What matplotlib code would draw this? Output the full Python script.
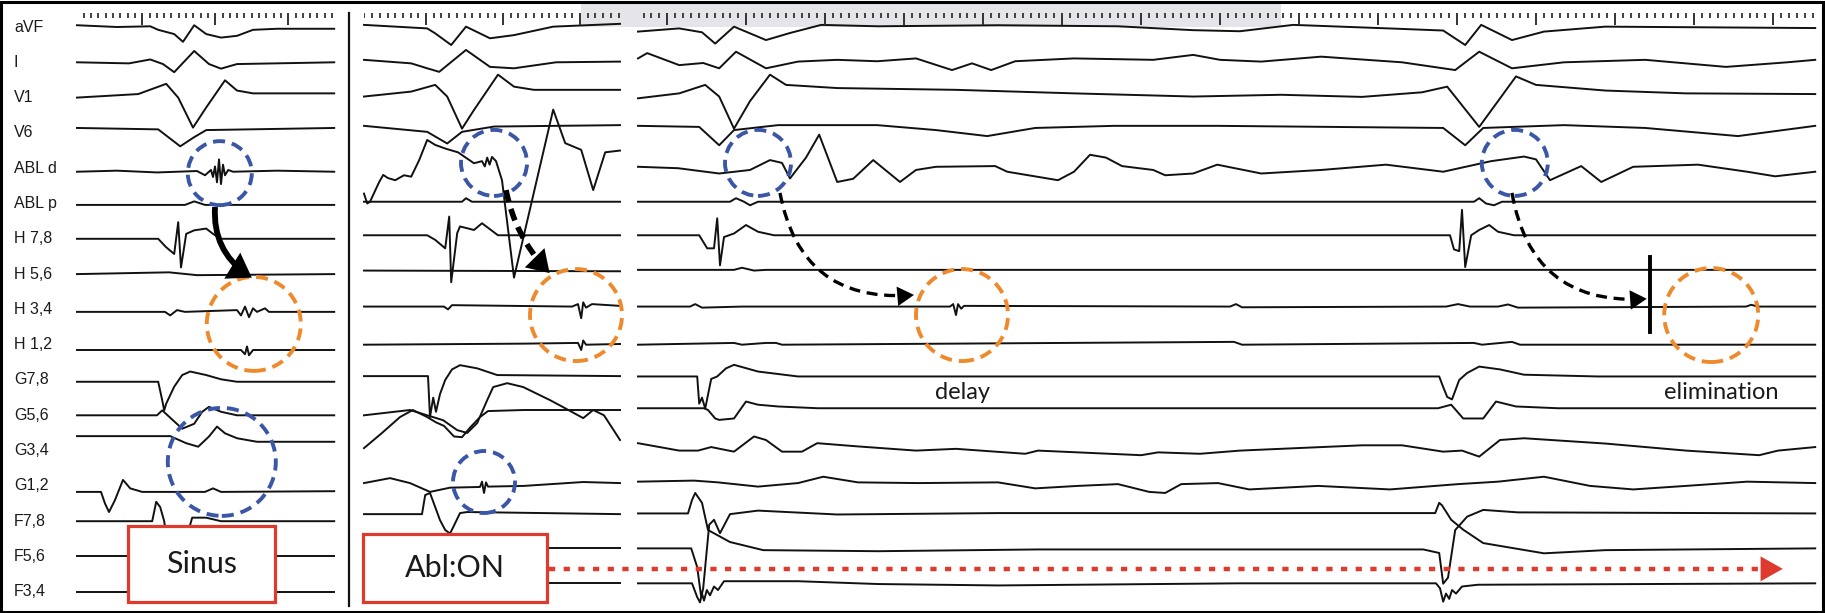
import numpy as np
import matplotlib.pyplot as plt
from matplotlib.patches import Ellipse, Rectangle, FancyArrowPatch

W, H = 1825, 613
MS_PER_PX = 2.5      # time scale of the recording
PX_PER_CH = 35.3     # vertical gap between channels
TOP_PX = 27          # baseline of the first channel

channels = ['aVF', 'I', 'V1', 'V6', 'ABL d', 'ABL p', 'H 7,8', 'H 5,6', 'H 3,4', 'H 1,2',
            'G7,8', 'G5,6', 'G3,4', 'G1,2', 'F7,8', 'F5,6', 'F3,4']

# (time ms, amplitude in channel units)
sinus = {
    'aVF': [(0, 0.05), (100, 0), (183, 0.02), (203, -0.08), (243, -0.2), (265, -0.42), (293, 0.05), (323, -0.2),
            (360, -0.3), (400, -0.25), (440, -0.08), (500, -0.05), (643, -0.05)],
    'I': [(0, 0), (130, -0.03), (183, 0.08), (215, -0.05), (243, -0.28), (293, 0.32), (330, -0.05), (360, -0.18),
          (400, -0.05), (643, 0)],
    'V1': [(0, 0), (153, 0.1), (223, 0.39), (253, 0), (290, -0.85), (323, -0.28), (370, 0.49), (400, 0.2),
           (440, 0.12), (643, 0.12)],
    'V6': [(0, 0.14), (203, 0.1), (258, -0.38), (293, -0.12), (323, 0.08), (643, 0.14)],
    'ABL d': [(0, -0.1), (100, -0.07), (200, -0.12), (300, -0.08), (320, -0.2), (335, -0.05), (340, -0.25),
              (345, 0.05), (350, -0.4), (355, 0.25), (360, -0.45), (365, 0.1), (370, -0.2), (378, -0.05),
              (390, -0.1), (500, -0.07), (643, -0.1)],
    'ABL p': [(0, -0.04), (270, -0.04), (293, 0.06), (320, -0.04), (643, -0.04)],
    'H 7,8': [(0, 0), (203, 0), (223, -0.24), (243, -0.43), (253, 0.47), (260, -0.81), (273, 0.14), (293, 0.24),
              (323, 0.29), (340, 0.14), (360, 0), (643, 0)],
    'H 5,6': [(0, 0), (230, 0.05), (300, -0.03), (643, 0)],
    'H 3,4': [(0, -0.07), (220, -0.07), (233, -0.17), (250, -0.02), (270, -0.07), (400, -0.02), (410, -0.17),
              (420, 0.08), (430, -0.22), (440, 0.03), (450, -0.07), (470, 0.03), (480, -0.07), (643, -0.07)],
    'H 1,2': [(0, -0.15), (410, -0.15), (420, -0.27), (425, -0.05), (430, -0.3), (440, -0.15), (643, -0.15)],
    'G7,8': [(0, -0.05), (203, -0.05), (213, -0.57), (218, -0.86), (223, -0.67), (243, -0.19), (263, 0.14),
             (283, 0.24), (323, 0.14), (360, 0.02), (400, -0.05), (643, -0.05)],
    'G5,6': [(0, 0), (200, 0), (213, 0.14), (263, -0.38), (293, -0.24), (313, 0.1), (330, 0.24), (360, 0.1),
             (400, 0), (643, 0)],
    'G3,4': [(0, 0.41), (233, 0.41), (273, 0.21), (303, 0.11), (330, 0.4), (350, 0.68), (370, 0.49), (400, 0.35),
             (450, 0.25), (643, 0.25)],
    'G1,2': [(0, -0.17), (60, -0.17), (70, -0.5), (80, -0.74), (95, -0.4), (115, 0.17), (133, -0.07),
             (163, -0.17), (320, -0.17), (340, -0.07), (360, -0.17), (643, -0.15)],
    'F7,8': [(0, 0), (188, 0), (198, 0.55), (208, 0.4), (218, 0), (230, -1.0), (265, -1.0), (278, -0.3),
             (288, 0.1), (323, 0.1), (360, 0), (643, 0)],
    'F5,6': [(0, 0), (643, 0)],
    'F3,4': [(0, 0), (643, 0)],
}

abl_on = {
    'aVF': [(0, 0.06), (158, -0.04), (178, -0.18), (218, -0.51), (255, 0.01), (315, -0.32), (375, -0.23),
            (473, 0.01), (640, 0.09)],
    'I': [(0, 0.07), (118, -0.03), (158, -0.17), (188, -0.27), (255, 0.35), (315, -0.13), (375, -0.17), (480, 0),
          (640, 0.02)],
    'V1': [(0, 0.03), (118, 0.17), (178, 0.36), (208, 0.03), (245, -0.88), (275, -0.35), (335, 0.65), (375, 0.31),
           (425, 0.22), (640, 0.22)],
    'V6': [(0, 0.2), (158, 0.03), (208, -0.3), (245, 0.03), (325, 0.18), (640, 0.22)],
    'ABL d': [(0, -0.72), (8, -1.0), (15, -0.95), (38, -0.39), (48, -0.19), (60, -0.28), (78, -0.34), (100, -0.2),
              (118, -0.24), (138, 0.23), (158, 0.8), (178, 0.66), (205, 0.55), (235, 0.45), (275, 0.14),
              (295, 0.2), (302, 0.05), (308, 0.3), (314, 0.1), (320, 0.32), (330, 0.2), (345, -0.34),
              (375, -3.1), (473, 1.66), (503, 0.71), (543, 0.52), (573, -0.62), (603, 0.45), (640, 0.5)],
    'ABL p': [(0, 0.05), (245, 0.05), (255, 0.15), (270, 0.05), (640, 0.05)],
    'H 7,8': [(0, 0.1), (158, 0.1), (178, -0.03), (203, -0.27), (213, 0.63), (218, -1.23), (233, 0.16),
              (240, 0.35), (275, 0.25), (295, 0.44), (335, 0.1), (640, 0.1)],
    'H 5,6': [(0, 0.1), (640, 0.08)],
    'H 3,4': [(0, 0.08), (200, 0.08), (210, 0.0), (220, 0.12), (520, 0.08), (535, 0.15), (543, -0.25),
              (548, 0.2), (555, 0.05), (570, 0.15), (640, 0.1)],
    'H 1,2': [(0, 0), (400, 0.03), (535, 0.05), (543, -0.15), (548, 0.12), (555, 0), (640, 0.02)],
    'G7,8': [(0, 0.11), (160, 0.11), (165, -1.05), (173, -0.5), (180, -0.9), (190, -0.4), (203, 0), (220, 0.3),
             (240, 0.42), (283, 0.33), (333, 0.14), (640, 0.11)],
    'G5,6': [(0, 0), (115, 0.15), (158, 0), (198, -0.14), (233, -0.42), (258, -0.5), (283, -0.22), (308, 0.43),
             (323, 0.8), (358, 0.91), (398, 0.8), (465, 0.43), (498, 0.23), (548, -0.08), (573, 0.15),
             (600, 0), (640, -0.7)],
    'G3,4': [(0, 0.07), (45, 0.5), (90, 0.95), (122, 1.15), (158, 0.95), (180, 0.8), (200, 0.7), (225, 0.4),
             (245, 0.38), (265, 0.65), (290, 0.95), (310, 1.12), (400, 1.15), (640, 1.15)],
    'G1,2': [(0, 0.08), (65, 0.22), (115, 0.08), (165, -0.17), (215, -0.05), (290, -0.03), (295, 0.12),
             (300, -0.2), (305, 0.1), (310, -0.02), (400, 0.0), (548, 0.11), (640, 0.08)],
    'F7,8': [(0, 0.2), (145, 0.2), (153, 0.74), (165, 0.8), (178, 0.4), (190, 0.03), (203, -0.25), (215, -0.35),
             (223, -0.17), (240, 0.23), (258, 0.26), (640, 0.2)],
    'F5,6': [(0, 0.23), (640, 0.23)],
    'F3,4': [(0, 0.25), (640, 0.25)],
}

ablation = {
    'aVF': [(0, -0.13), (103, -0.04), (160, -0.15), (193, -0.47), (240, 0.01), (320, -0.37), (380, -0.17),
            (458, 0.06), (600, 0.02), (900, 0.05), (1200, 0.02), (1388, -0.09), (1505, -0.12), (1638, 0.06),
            (1900, -0.05), (2013, -0.1), (2068, -0.51), (2108, 0.06), (2185, -0.37), (2265, -0.13),
            (2418, 0.01), (2943, -0.03)],
    'I': [(0, 0.11), (23, 0.26), (103, -0.08), (163, -0.02), (203, -0.17), (245, 0.3), (320, -0.17), (400, 0.02),
          (498, 0.07), (598, 0.03), (695, 0.11), (785, -0.22), (835, -0.03), (883, -0.22), (943, 0.03),
          (1090, 0.11), (1288, 0.07), (1388, 0.21), (1455, 0.07), (1558, 0.02), (1708, 0.16), (1910, 0.0),
          (2043, -0.22), (2103, 0.3), (2185, -0.17), (2315, 0.0), (2518, 0.07), (2720, -0.13), (2873, 0.0),
          (2943, 0.07)],
    'V1': [(0, -0.02), (103, 0.12), (168, 0.36), (203, 0.03), (240, -0.88), (280, -0.1), (330, 0.65),
           (370, 0.36), (498, 0.27), (795, 0.22), (1090, 0.12), (1388, 0.03), (1608, 0.08), (1810, 0.02),
           (1960, 0.15), (2023, 0.31), (2103, -0.83), (2150, -0.1), (2195, 0.6), (2245, 0.36), (2418, 0.2),
           (2620, 0.12), (2943, 0.1)],
    'V6': [(0, 0.2), (153, 0.17), (203, -0.35), (240, 0.08), (350, 0.22), (598, 0.22), (745, 0.08), (873, -0.09),
           (993, 0.14), (1190, 0.2), (1448, 0.2), (2013, 0.14), (2068, -0.35), (2113, 0.14), (2315, 0.22),
           (2518, 0.14), (2750, -0.09), (2943, 0.2)],
    'ABL d': [(0, 0.04), (100, 0.0), (203, -0.15), (280, -0.05), (330, 0.23), (360, 0.15), (380, -0.29),
              (420, 0.3), (453, 0.95), (498, -0.39), (538, -0.3), (588, 0.23), (655, -0.39), (695, -0.05),
              (745, 0.04), (893, 0.06), (923, -0.1), (1050, -0.34), (1090, -0.1), (1130, 0.38), (1170, 0.3),
              (1210, 0.06), (1288, -0.05), (1318, -0.2), (1388, -0.15), (1448, 0.1), (1558, -0.15),
              (1708, -0.05), (1870, 0.1), (2013, -0.1), (2093, 0.1), (2133, 0.2), (2215, 0.33), (2245, 0.25),
              (2280, -0.34), (2358, 0.06), (2408, -0.39), (2488, 0.04), (2650, 0.1), (2773, -0.1),
              (2843, -0.23), (2943, -0.1)],
    'ABL p': [(0, 0.05), (230, 0.05), (245, 0.15), (265, 0.05), (280, -0.05), (300, 0.05), (2090, 0.05),
              (2103, 0.15), (2120, 0.0), (2140, -0.05), (2160, 0.05), (2943, 0.05)],
    'H 7,8': [(0, 0.1), (153, 0.1), (173, -0.27), (190, -0.27), (198, 0.58), (205, -0.75), (215, 0.05),
              (240, 0.15), (270, 0.39), (300, 0.2), (340, 0.1), (2030, 0.1), (2040, -0.3), (2053, -0.35),
              (2060, 0.82), (2068, -0.8), (2083, 0.1), (2103, 0.25), (2128, 0.39), (2150, 0.2), (2190, 0.1),
              (2943, 0.1)],
    'H 5,6': [(0, 0.12), (240, 0.12), (260, 0.18), (290, 0.1), (320, 0.12), (2943, 0.12)],
    'H 3,4': [(0, 0.08), (130, 0.08), (143, 0.15), (160, 0.05), (260, 0.08), (780, 0.08), (788, 0.15),
              (795, -0.16), (800, 0.15), (808, 0.02), (815, 0.1), (1480, 0.08), (1495, 0.15), (1510, 0.06),
              (2020, 0.08), (2050, 0.15), (2080, 0.08), (2150, 0.08), (2175, 0.14), (2200, 0.05), (2770, 0.08),
              (2783, 0.13), (2800, 0.08), (2943, 0.08)],
    'H 1,2': [(0, 0), (240, 0.05), (260, 0), (320, 0.05), (345, 0.05), (360, 0), (1490, 0.08), (1510, 0),
              (2090, 0.05), (2110, 0), (2185, 0.08), (2205, 0), (2943, 0)],
    'G7,8': [(0, 0.1), (148, 0.1), (153, -0.67), (160, -0.5), (168, -0.81), (183, 0.03), (198, 0.1), (220, 0.33),
             (240, 0.43), (300, 0.24), (400, 0.1), (2003, 0.1), (2013, -0.2), (2023, -0.48), (2035, -0.55),
             (2053, 0.0), (2073, 0.2), (2103, 0.38), (2155, 0.3), (2215, 0.15), (2400, 0.1), (2943, 0.1)],
    'G5,6': [(0, 0.2), (165, 0.2), (175, 0.15), (193, -0.09), (203, -0.13), (240, -0.09), (270, 0.39),
             (300, 0.3), (350, 0.25), (450, 0.2), (2000, 0.2), (2033, 0.3), (2063, -0.09), (2113, -0.09),
             (2145, 0.39), (2195, 0.25), (2300, 0.2), (2943, 0.2)],
    'G3,4': [(0, 0.21), (103, 0.0), (150, 0.0), (183, 0.1), (240, -0.03), (290, 0.4), (320, 0.3), (360, -0.03),
             (410, -0.03), (448, 0.21), (548, 0.12), (695, 0.0), (795, 0.05), (968, -0.09), (1000, 0.0),
             (1258, -0.13), (1300, -0.05), (1405, -0.09), (1505, 0.0), (1810, 0.15), (1910, 0.15),
             (2013, -0.03), (2060, 0.0), (2103, -0.17), (2155, 0.3), (2215, 0.35), (2418, 0.2), (2620, 0.0),
             (2803, -0.13), (2850, 0.0), (2943, 0.1)],
    'G1,2': [(0, 0.12), (140, 0.15), (200, 0.1), (300, -0.02), (400, 0.08), (463, 0.26), (550, 0.1), (700, 0.08),
             (900, 0.1), (993, -0.07), (1100, 0.0), (1200, 0.05), (1278, -0.17), (1318, -0.2), (1358, 0.05),
             (1450, 0.08), (1528, -0.1), (1700, 0.0), (1880, -0.1), (2050, 0.05), (2150, 0.12), (2265, 0.26),
             (2380, 0.0), (2488, -0.1), (2620, 0.0), (2773, 0.12), (2943, 0.08)],
    'F7,8': [(0, 0.22), (125, 0.22), (135, 0.6), (143, 0.8), (160, 0.52), (175, -0.25), (188, -0.33),
             (230, -0.59), (313, -0.82), (600, -0.85), (1000, -0.8), (1963, -0.8), (2003, -0.9), (2013, -1.77),
             (2025, -1.6), (2043, -0.25), (2073, 0.13), (2113, 0.32), (2200, 0.25), (2943, 0.22)],
    'F5,6': [(0, 0.23), (133, 0.23), (148, -0.3), (158, -1.15), (163, -0.9), (178, 0.9), (190, 1.04),
             (205, 0.66), (230, 1.2), (300, 1.3), (498, 1.19), (900, 1.23), (1993, 1.23), (2003, 1.52),
             (2010, 1.45), (2033, 1.04), (2063, 0.76), (2113, 0.38), (2265, 0.09), (2418, 0.18), (2943, 0.23)],
    'F3,4': [(0, 0.24), (135, 0.24), (148, -0.15), (155, -0.3), (160, -0.05), (165, -0.25), (172, 0.05),
             (180, -0.1), (190, 0.15), (200, 0.05), (215, 0.3), (260, 0.3), (400, 0.3), (600, 0.22), (900, 0.18),
             (1500, 0.24), (1995, 0.24), (2005, 0.1), (2013, -0.28), (2020, -0.05), (2028, -0.2), (2035, 0.05),
             (2045, -0.05), (2060, 0.15), (2100, 0.2), (2943, 0.24)],
}

# calibration ruler: first major tick and major spacing (ms)
ruler_left = (163, 182.5)
ruler_mid = (155, 192.5)
ruler_right = (73, 197.5)

BLUE = '#3b56a6'
ORANGE = '#ef8a2c'
RED = '#de3a2e'
INK = '#111111'

plt.rcParams['font.family'] = ['Liberation Sans', 'DejaVu Sans']
fig = plt.figure(figsize=(W / 100, H / 100), dpi=100)
fig.patch.set_facecolor('white')

bg = fig.add_axes([0, 0, 1, 1])
bg.set_xlim(0, W)
bg.set_ylim(H, 0)
bg.axis('off')
bg.add_patch(Rectangle((581, 3), 700, 24, color='#e5e5e9', lw=0))
bg.add_patch(Rectangle((1.5, 1.5), W - 3, H - 3, fill=False, ec='k', lw=2.2))
bg.plot([349, 349], [13, 606], color=INK, lw=1.6)
for i, name in enumerate(channels):
    bg.text(14, TOP_PX + i * PX_PER_CH, name, ha='left', va='center', fontsize=11.5, color='#1a1a1a')


def make_panel(px0, px1):
    ax = fig.add_axes([px0 / W, 0, (px1 - px0) / W, 1])
    ax.set_xlim(0, (px1 - px0) * MS_PER_PX)
    ax.set_ylim(-(H - TOP_PX) / PX_PER_CH, TOP_PX / PX_PER_CH)
    ax.axis('off')
    return ax


def draw_traces(ax, data):
    for i, ch in enumerate(channels):
        pts = np.array(data[ch])
        ax.plot(pts[:, 0], -i + pts[:, 1], color=INK, lw=1.4, solid_joinstyle='round', clip_on=False)


def draw_ruler(ax, first, step):
    tmax = ax.get_xlim()[1]
    minor = step / 10
    k0 = int(np.floor(first / minor))
    ticks = first - k0 * minor + minor * np.arange(int((tmax - first + k0 * minor) / minor) + 1)
    phase = ((ticks - first) / step) % 1
    major = np.isclose(phase, 0, atol=1e-3) | np.isclose(phase, 1, atol=1e-3)
    ax.vlines(ticks[~major], 0.255, 0.397, color='#333333', lw=1.3)
    ax.vlines(ticks[major], 0.06, 0.397, color='#333333', lw=1.4)


def ring(ax, t, y, r_px, color):
    ax.add_patch(Ellipse((t, y), 2 * r_px * MS_PER_PX, 2 * r_px / PX_PER_CH, fill=False, ec=color, lw=2.8,
                         ls=(0, (3.1, 1.8)), clip_on=False, zorder=4))


def curved_arrow(ax, start, end, rad, lw, dash=None, head=(0.6, 0.35), ms=20):
    cs = 'arc3,rad=%s' % rad
    shaft = FancyArrowPatch(start, end, connectionstyle=cs, arrowstyle='-', color='k', lw=lw,
                            shrinkA=0, shrinkB=4, ls=dash if dash else '-', clip_on=False, zorder=5,
                            capstyle='butt')
    tip = FancyArrowPatch(start, end, connectionstyle=cs,
                          arrowstyle='-|>,head_length=%s,head_width=%s' % head, color='k', lw=0,
                          shrinkA=0, shrinkB=0, mutation_scale=ms, clip_on=False, zorder=5)
    ax.add_patch(shaft)
    ax.add_patch(tip)


def label_box(ax, t0, t1, y0, y1, text):
    ax.add_patch(Rectangle((t0, y0), t1 - t0, y1 - y0, fc='white', ec=RED, lw=2.3, clip_on=False, zorder=6))
    ax.text((t0 + t1) / 2, (y0 + y1) / 2, text, ha='center', va='center', fontsize=22, family='Lato',
            color='#1a1a1a', zorder=7)


ax_l = make_panel(77, 334)
ax_m = make_panel(364, 620)
ax_r = make_panel(638, 1815)

for ax, data, rl in [(ax_l, sinus, ruler_left), (ax_m, abl_on, ruler_mid), (ax_r, ablation, ruler_right)]:
    draw_traces(ax, data)
    draw_ruler(ax, *rl)

# sinus beat
ring(ax_l, 357, -4.14, 32, BLUE)
ring(ax_l, 362, -12.32, 54, BLUE)
ring(ax_l, 442, -8.41, 47, ORANGE)
curved_arrow(ax_l, (345, -5.1), (437, -7.1), 0.3, 4.2, head=(0.75, 0.5), ms=22)
label_box(ax_l, 128, 495, -16.3, -14.14, 'Sinus')

# ablation on
ring(ax_m, 325, -3.85, 33, BLUE)
ring(ax_m, 300, -12.89, 31, BLUE)
ring(ax_m, 530, -8.16, 46, ORANGE)
curved_arrow(ax_m, (355, -4.62), (464, -6.97), 0.15, 4.0, dash=(0, (2.2, 1.3)), head=(0.7, 0.45), ms=22)
label_box(ax_m, -3, 457, -16.29, -14.36, 'Abl:ON')

# delayed and eliminated conduction
ring(ax_r, 300, -3.85, 33, BLUE)
ring(ax_r, 2192, -3.85, 33, BLUE)
ring(ax_r, 810, -8.16, 46, ORANGE)
ring(ax_r, 2683, -8.16, 47, ORANGE)
curved_arrow(ax_r, (355, -4.7), (690, -7.59), 0.45, 2.4, dash=(0, (3.3, 2.0)))
curved_arrow(ax_r, (2185, -4.7), (2522, -7.7), 0.45, 2.4, dash=(0, (3.3, 2.0)))
ax_r.plot([2530, 2530], [-6.52, -8.64], color='k', lw=2.8, clip_on=False, zorder=5)
ax_r.text(810, -10.34, 'delay', ha='center', va='center', fontsize=17, family='Lato', color='#1a1a1a')
ax_r.text(2708, -10.34, 'elimination', ha='center', va='center', fontsize=17, family='Lato', color='#1a1a1a')

# ablation running
ax_r.plot([-222, 2835], [-15.35, -15.35], color=RED, lw=3.2, ls=(0, (1.4, 1.9)), clip_on=False, zorder=5)
ax_r.annotate('', xy=(2862, -15.35), xytext=(2830, -15.35),
              arrowprops=dict(arrowstyle='-|>,head_length=0.8,head_width=0.45', color=RED, lw=0,
                              shrinkA=0, shrinkB=0, mutation_scale=20), annotation_clip=False)

fig.savefig('out.png', dpi=100)
